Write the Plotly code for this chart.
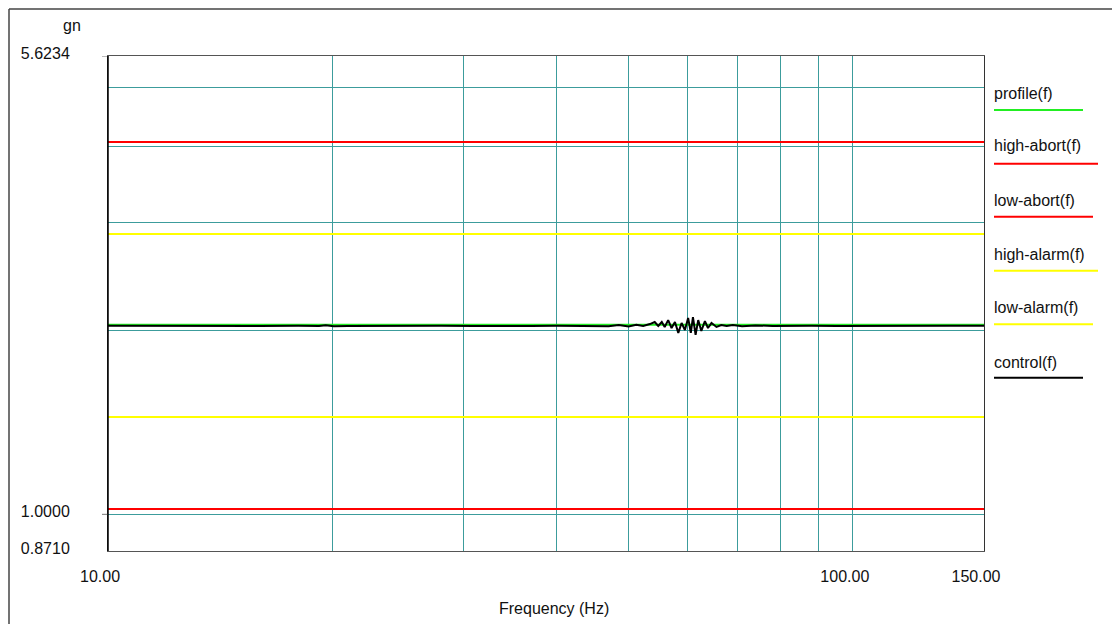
import plotly.graph_objects as go

# ---------------- data ----------------
freq_range = [10.0, 150.0]
y_range = [0.8710, 5.6234]

series_names = ["profile(f)", "high-abort(f)", "low-abort(f)", "high-alarm(f)", "low-alarm(f)", "control(f)"]
series_colors = ["#22ee22", "#ff0000", "#ff0000", "#ffff00", "#ffff00", "#000000"]

profile_level = 2.043
high_abort_level = 4.067
low_abort_level = 1.020
high_alarm_level = 2.875
low_alarm_level = 1.443

control_freq = [10, 12, 14, 16, 18, 19.2, 19.6, 20.1, 21, 23, 25, 28, 31, 34, 37, 40, 43,
                45, 47, 48.5, 50, 51.2, 52.3, 53.4, 54.2, 54.8, 55.4, 55.9, 56.5, 57.1,
                57.7, 58.3, 58.9, 59.5, 60.1, 60.6, 61.0, 61.5, 62.0, 62.6, 63.3, 63.9,
                64.6, 65.6, 66.6, 67.7, 69, 71, 74, 78, 82, 88, 95, 105, 115, 125, 135, 150]
control_val = [2.035, 2.033, 2.036, 2.034, 2.035, 2.033, 2.039, 2.031, 2.034, 2.036, 2.034,
               2.035, 2.033, 2.036, 2.034, 2.035, 2.033, 2.037, 2.032, 2.040, 2.030, 2.042,
               2.033, 2.048, 2.064, 2.033, 2.064, 2.026, 2.079, 2.018, 2.064, 1.981, 2.056,
               2.003, 2.096, 1.981, 2.103, 1.966, 2.079, 1.996, 2.071, 2.018, 2.056, 2.026,
               2.041, 2.033, 2.040, 2.031, 2.038, 2.034, 2.036, 2.035, 2.034, 2.036, 2.035,
               2.034, 2.036, 2.035]

x_tickvals = [10, 20, 30, 40, 50, 60, 70, 80, 90, 100, 150]
x_ticktext = ["10.00", "", "", "", "", "", "", "", "", "100.00", "150.00"]
y_tickvals = [0.8710, 1, 2, 3, 4, 5, 5.6234]
y_ticktext = ["0.8710", "1.0000", "", "", "", "", "5.6234"]

y_title = "gn"
x_title = "Frequency (Hz)"

# ---------------- figure ----------------
FONT = "Liberation Sans, Arial, sans-serif"
GRID = "#3c9c9c"

fig = go.Figure()
levels = [profile_level, high_abort_level, low_abort_level, high_alarm_level, low_alarm_level]
order = [1, 2, 3, 4, 0]  # draw limits first, profile, then control on top
for i in order:
    fig.add_trace(go.Scatter(x=freq_range, y=[levels[i], levels[i]], mode="lines",
                             line=dict(color=series_colors[i], width=2),
                             name=series_names[i], showlegend=False, hoverinfo="skip"))
fig.add_trace(go.Scatter(x=control_freq, y=control_val, mode="lines",
                         line=dict(color=series_colors[5], width=2),
                         name=series_names[5], showlegend=False))

# page body has an 8px margin: screen coords = figure coords + 8
OFF = 8
W, H = 1120, 624
PL, PR, PT, PB = 108, 984, 56, 551          # plot area in screen pixels
L, T = PL - OFF, PT - OFF
R, B = W - (PR - OFF), H - (PB - OFF)
pw, ph = PR - PL, PB - PT

def px(x):
    return (x - PL) / pw

def py(y):
    return (PB - y) / ph

shapes = []
annotations = []

# legend (text with coloured line underneath)
leg_text_y = [93, 146, 200, 254, 307, 362]
leg_line_y = [110, 163.7, 216.7, 270.7, 324.3, 377.7]
leg_line_end = [1083, 1098, 1093, 1098, 1093, 1083]
for name, col, ty, ly, le in zip(series_names, series_colors, leg_text_y, leg_line_y, leg_line_end):
    annotations.append(dict(text=name, xref="paper", yref="paper", x=px(992), y=py(ty),
                            xanchor="left", yanchor="middle", showarrow=False,
                            font=dict(family=FONT, size=16, color="#111")))
    shapes.append(dict(type="line", xref="paper", yref="paper", x0=px(994), x1=px(le),
                       y0=py(ly), y1=py(ly), line=dict(color=col, width=2)))

# y tick marks at 1.0000 and 5.6234
for v in [1.0, 5.6234]:
    shapes.append(dict(type="line", xref="paper", yref="y", x0=-6 / pw, x1=0, y0=v, y1=v,
                       line=dict(color="#777", width=1)))

# outer frame (top and left), at the figure's own edge
shapes.append(dict(type="line", xref="paper", yref="paper", x0=px(9), x1=px(1140),
                   y0=py(9), y1=py(9), line=dict(color="#444", width=1.5)))
shapes.append(dict(type="line", xref="paper", yref="paper", x0=px(9), x1=px(9),
                   y0=py(9), y1=py(660), line=dict(color="#444", width=1.5)))
# left axis darker
shapes.append(dict(type="line", xref="paper", yref="paper", x0=0, x1=0, y0=0, y1=1,
                   line=dict(color="#000", width=1.5)))

annotations.append(dict(text=y_title, xref="paper", yref="paper", x=px(72), y=py(25),
                        xanchor="center", yanchor="middle", showarrow=False,
                        font=dict(family=FONT, size=16, color="#111")))
annotations.append(dict(text=x_title, xref="paper", yref="paper", x=px(554), y=py(608),
                        xanchor="center", yanchor="middle", showarrow=False,
                        font=dict(family=FONT, size=16, color="#111")))

fig.update_layout(
    width=W, height=H,
    margin=dict(l=L, r=R, t=T, b=B),
    paper_bgcolor="white", plot_bgcolor="white",
    showlegend=False,
    font=dict(family=FONT, size=16, color="#111"),
    shapes=shapes, annotations=annotations,
    xaxis=dict(type="log", range=[1, 2.176091259], tickvals=x_tickvals, ticktext=x_ticktext,
               showgrid=True, gridcolor=GRID, gridwidth=1, zeroline=False,
               showline=True, linecolor="#555", linewidth=1, mirror=True,
               ticks="", ticklabelstandoff=11, ticklabelshift=-8),
    yaxis=dict(type="log", range=[-0.059982, 0.75], tickvals=y_tickvals, ticktext=y_ticktext,
               showgrid=True, gridcolor=GRID, gridwidth=1, zeroline=False,
               showline=True, linecolor="#333", linewidth=1, mirror=True,
               ticks="", ticklabelstandoff=34, ticklabelshift=-3),
)

fig.write_html("out.html")
